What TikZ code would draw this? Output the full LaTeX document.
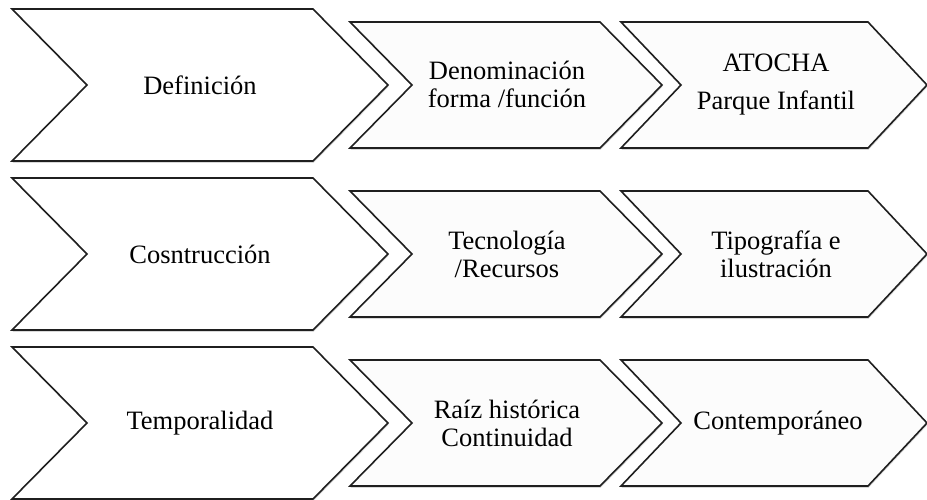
\documentclass[tikz,border=0pt]{standalone}
\usepackage{fontspec}
\setmainfont{Liberation Serif}
\usetikzlibrary{shadows}

\begin{document}
\begin{tikzpicture}[x=1pt,y=-1pt,chev/.style={draw=black!88,line width=1.6pt,line join=miter,drop shadow={opacity=0.3,shadow xshift=0.6pt,shadow yshift=-1.8pt}},big/.style={chev,fill=white},small/.style={chev,fill=black!1.2},lbl/.style={align=center,font=\fontsize{26.5}{28}\selectfont}]
\useasboundingbox (0,0) rectangle (927,500);
\foreach \yc in {85,254,423} {
  \draw[big] (12,\yc-76) -- (313,\yc-76) -- (388,\yc) -- (313,\yc+76) -- (12,\yc+76) -- (87,\yc) -- cycle;
  \draw[small] (350,\yc-63) -- (600,\yc-63) -- (662,\yc) -- (600,\yc+63) -- (350,\yc+63) -- (412,\yc) -- cycle;
  \draw[small] (621,\yc-63) -- (868,\yc-63) -- (927,\yc) -- (868,\yc+63) -- (621,\yc+63) -- (681,\yc) -- cycle;
}
\node[lbl] (def) at (200,85) {Definición};
\node[lbl] (denom) at (507,84) {Denominación\\forma /función};
\node[lbl] (atocha) at (776,85) {ATOCHA\\[10pt]Parque Infantil};
\node[lbl] (cons) at (200,254) {Cosntrucción};
\node[lbl] (tecno) at (507,254) {Tecnología\\/Recursos};
\node[lbl] (tipo) at (776,254) {Tipografía e\\ilustración};
\node[lbl] (temp) at (200,423) {Temporalidad};
\node[lbl] (raiz) at (507,423) {Raíz histórica\\Continuidad};
\node[lbl] (contemp) at (778,423) {Contemporáneo};
\end{tikzpicture}
\end{document}
